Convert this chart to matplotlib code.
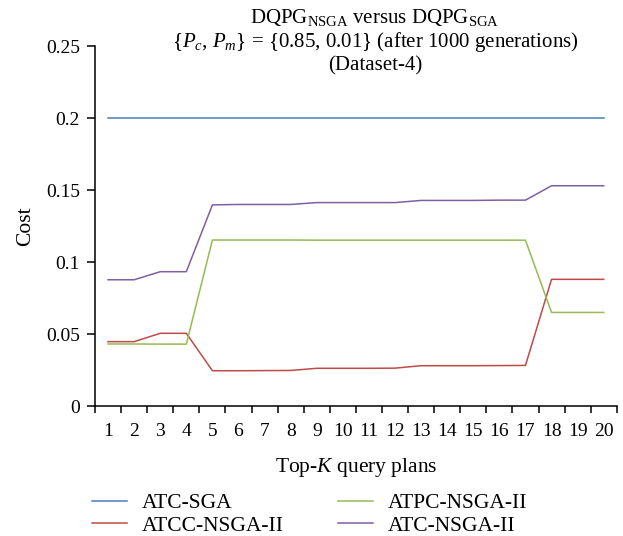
import numpy as np
import matplotlib
matplotlib.use('Agg')
import matplotlib.pyplot as plt
from matplotlib.ticker import FixedLocator, NullFormatter

plt.rcParams['font.family'] = ['Liberation Serif', 'DejaVu Serif']
plt.rcParams['mathtext.fontset'] = 'custom'
plt.rcParams['mathtext.rm'] = 'Liberation Serif'
plt.rcParams['mathtext.it'] = 'Liberation Serif:italic'

# Top-K query plans
plans = list(range(1, 21))

atc_sga = [0.2] * 20
atcc_nsga = [0.0447, 0.0447, 0.0505, 0.0505, 0.0245, 0.0245, 0.0246, 0.0247,
             0.0262, 0.0262, 0.0262, 0.0263, 0.0280, 0.0280, 0.0280, 0.0281,
             0.0282, 0.0880, 0.0880, 0.0880]
atpc_nsga = [0.0431, 0.0431, 0.0430, 0.0430, 0.1153, 0.1153, 0.1153, 0.1153,
             0.1152, 0.1152, 0.1152, 0.1152, 0.1152, 0.1152, 0.1152, 0.1152,
             0.1152, 0.0650, 0.0650, 0.0650]
atc_nsga = [0.0877, 0.0877, 0.0933, 0.0933, 0.1397, 0.1400, 0.1400, 0.1400,
            0.1413, 0.1413, 0.1413, 0.1413, 0.1428, 0.1428, 0.1428, 0.1430,
            0.1430, 0.1530, 0.1530, 0.1530]

yticks = [0, 0.05, 0.1, 0.15, 0.2, 0.25]
ylabels = ['0', '0.05', '0.1', '0.15', '0.2', '0.25']

fig = plt.figure(figsize=(6.23, 5.36), dpi=100)
ax = fig.add_axes([0.1525, 0.2425, 0.8375, 0.6715])

ax.plot(plans, atc_sga, color='#4a7ebb', lw=1.1, label='ATC-SGA')
ax.plot(plans, atcc_nsga, color='#be4b48', lw=1.1, label='ATCC-NSGA-II')
ax.plot(plans, atpc_nsga, color='#98b954', lw=1.1, label='ATPC-NSGA-II')
ax.plot(plans, atc_nsga, color='#7d60a0', lw=1.1, label='ATC-NSGA-II')

ax.set_xlim(0.5, 20.5)
ax.set_ylim(0, 0.25)
ax.set_yticks(yticks)
ax.set_yticklabels(ylabels)
ax.set_xticks(plans)
ax.xaxis.set_minor_locator(FixedLocator(np.arange(0.5, 21, 1)))
ax.xaxis.set_minor_formatter(NullFormatter())
ax.tick_params(axis='x', which='major', length=0, labelsize=14, pad=12)
ax.tick_params(axis='x', which='minor', length=5, width=1.1, direction='out')
ax.tick_params(axis='y', length=5.8, width=1.1, direction='out', labelsize=14, pad=5)

for s in ['top', 'right']:
    ax.spines[s].set_visible(False)
for s in ['left', 'bottom']:
    ax.spines[s].set_linewidth(1.1)

ax.set_ylabel('Cost', fontsize=15.5, labelpad=8)
ax.set_xlabel('Top-$K$ query plans', fontsize=15.5, labelpad=12)

fig.text(0.602, 0.968, r'DQPG$_{\mathrm{NSGA}}$ versus DQPG$_{\mathrm{SGA}}$',
         ha='center', va='center', fontsize=15)
fig.text(0.602, 0.922, r'$\{P_c$, $P_m\}$ = {0.85, 0.01} (after 1000 generations)',
         ha='center', va='center', fontsize=15)
fig.text(0.602, 0.877, '(Dataset-4)', ha='center', va='center', fontsize=15)

fig.legend(loc='center left', bbox_to_anchor=(0.117, 0.040), ncol=2,
           frameon=False, fontsize=15.5, handlelength=1.63, handletextpad=0.65,
           columnspacing=2.55, labelspacing=0.1)

fig.savefig('out.png', dpi=100)
